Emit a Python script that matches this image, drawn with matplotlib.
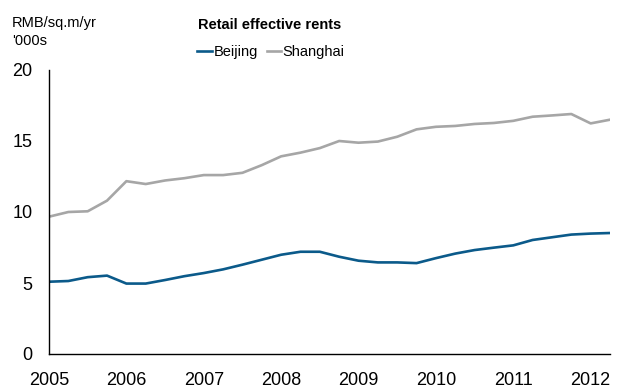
import matplotlib
matplotlib.use("Agg")
import matplotlib.pyplot as plt
import numpy as np

plt.rcParams['font.family'] = ['Liberation Sans', 'DejaVu Sans']

# Quarterly observations, 2005 Q1 .. 2012 Q2
quarters = np.arange(2005.0, 2012.5, 0.25)
beijing = [5.09, 5.14, 5.41, 5.52, 4.96, 4.96, 5.21, 5.48, 5.70, 5.96,
           6.29, 6.64, 6.99, 7.20, 7.20, 6.85, 6.57, 6.45, 6.45, 6.40,
           6.75, 7.07, 7.32, 7.49, 7.65, 8.03, 8.22, 8.41, 8.48, 8.52]
shanghai = [9.67, 10.00, 10.05, 10.80, 12.17, 11.97, 12.22, 12.38, 12.60, 12.60,
            12.76, 13.30, 13.92, 14.18, 14.50, 15.00, 14.88, 14.96, 15.30, 15.82,
            16.00, 16.06, 16.20, 16.27, 16.42, 16.71, 16.80, 16.90, 16.24, 16.50]
year_ticks = [2005, 2006, 2007, 2008, 2009, 2010, 2011, 2012]
y_ticks = [0, 5, 10, 15, 20]

fig = plt.figure(figsize=(6.26, 3.90), dpi=100)
ax = fig.add_axes([49/626, 36/390, 561/626, 284/390])

ax.plot(quarters, beijing, color='#0b5a8a', lw=1.9, label='Beijing',
        solid_joinstyle='round')
ax.plot(quarters, shanghai, color='#a6a6a6', lw=1.9, label='Shanghai',
        solid_joinstyle='round')

ax.set_xlim(quarters[0], quarters[-1])
ax.set_ylim(0, 20)
ax.set_xticks(year_ticks)
ax.set_xticklabels([str(y) for y in year_ticks])
ax.set_yticks(y_ticks)
ax.tick_params(axis='both', length=0, labelsize=13)
ax.tick_params(axis='y', pad=12)
ax.tick_params(axis='x', pad=13)

for side in ('top', 'right'):
    ax.spines[side].set_visible(False)
for side in ('left', 'bottom'):
    ax.spines[side].set_linewidth(1.0)
    ax.spines[side].set_color('black')

fig.text(270/626, 1 - 25/390, 'Retail effective rents', ha='center', va='center',
         fontsize=10.5, fontweight='bold')
fig.text(12/626, 1 - 23/390, 'RMB/sq.m/yr', ha='left', va='center', fontsize=10.5)
fig.text(12/626, 1 - 41/390, "'000s", ha='left', va='center', fontsize=10.5)

leg = fig.legend(loc='center', bbox_to_anchor=(271/626, 1 - 52/390), ncol=2,
                 frameon=False, fontsize=10.5, handlelength=1.0,
                 handletextpad=0.1, columnspacing=0.6, borderaxespad=0)

fig.savefig('out.png', dpi=100)
